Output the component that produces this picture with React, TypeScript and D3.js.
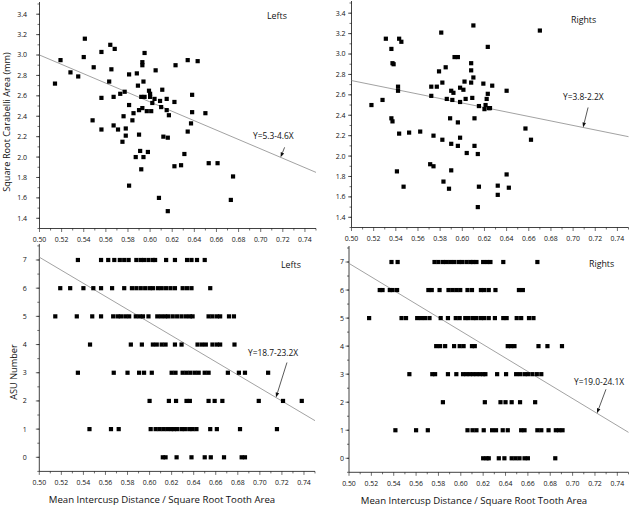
import * as d3 from "d3";
import React from "react";

// Carabelli area vs intercusp ratio
const leftCarabelli: [number, number][] = [
  [0.514, 2.72], [0.519, 2.95], [0.528, 2.83], [0.535, 2.79], [0.541, 3.16], [0.540, 2.98],
  [0.548, 2.36], [0.549, 2.88], [0.556, 2.58], [0.556, 2.27], [0.556, 3.03], [0.564, 3.10],
  [0.565, 2.86], [0.568, 3.06], [0.563, 2.74], [0.567, 2.59], [0.567, 2.31], [0.571, 2.27],
  [0.573, 2.62], [0.577, 2.64], [0.576, 2.40], [0.575, 2.15], [0.578, 2.28], [0.578, 2.21],
  [0.581, 2.81], [0.581, 2.51], [0.581, 1.72], [0.584, 2.36], [0.585, 2.43], [0.587, 2.00],
  [0.588, 2.82], [0.589, 2.70], [0.590, 2.46], [0.590, 2.22], [0.591, 2.06], [0.592, 2.59],
  [0.592, 1.88], [0.593, 2.93], [0.593, 2.90], [0.593, 2.48], [0.594, 2.74], [0.594, 2.00],
  [0.595, 3.02], [0.595, 2.59], [0.597, 2.45], [0.598, 2.05], [0.599, 2.65], [0.600, 2.62],
  [0.600, 2.59], [0.601, 2.45], [0.602, 2.53], [0.604, 2.57], [0.605, 2.85], [0.608, 1.60],
  [0.609, 2.55], [0.610, 2.49], [0.611, 2.66], [0.612, 2.20], [0.615, 2.57], [0.615, 2.46],
  [0.616, 1.47], [0.616, 2.19], [0.617, 2.41], [0.622, 2.54], [0.622, 1.91], [0.623, 2.90],
  [0.628, 1.92], [0.631, 2.03], [0.634, 2.25], [0.634, 2.95], [0.637, 2.33], [0.638, 2.44],
  [0.638, 2.61], [0.643, 2.94], [0.650, 2.43], [0.653, 1.94], [0.661, 1.94], [0.673, 1.58],
  [0.675, 1.81],
];

const rightCarabelli: [number, number][] = [
  [0.518, 2.50], [0.528, 2.55], [0.531, 3.15], [0.536, 3.05], [0.537, 2.91], [0.538, 2.90],
  [0.536, 2.37], [0.537, 2.34], [0.542, 2.68], [0.542, 2.64], [0.543, 3.15], [0.545, 3.12],
  [0.541, 1.85], [0.543, 2.22], [0.547, 1.70], [0.552, 2.23], [0.562, 2.24], [0.572, 2.59],
  [0.572, 2.68], [0.571, 1.92], [0.574, 1.90], [0.574, 2.20], [0.577, 2.68], [0.579, 2.83],
  [0.581, 3.21], [0.582, 2.72], [0.582, 2.16], [0.583, 1.75], [0.585, 2.87], [0.586, 2.56],
  [0.588, 1.68], [0.589, 2.37], [0.590, 1.86], [0.590, 2.64], [0.590, 2.12], [0.591, 2.55],
  [0.592, 2.62], [0.593, 2.97], [0.596, 2.10], [0.596, 2.33], [0.596, 2.97], [0.598, 2.53],
  [0.598, 2.18], [0.598, 2.67], [0.601, 2.65], [0.602, 2.73], [0.603, 2.56], [0.604, 2.03],
  [0.608, 2.91], [0.608, 2.72], [0.609, 2.57], [0.608, 2.84], [0.610, 3.28], [0.610, 2.77],
  [0.611, 2.37], [0.611, 2.10], [0.614, 2.02], [0.614, 1.50], [0.615, 1.70], [0.615, 2.49],
  [0.619, 2.71], [0.620, 2.46], [0.621, 2.50], [0.622, 2.56], [0.623, 2.61], [0.623, 3.07],
  [0.624, 2.47], [0.625, 2.47], [0.627, 2.69], [0.632, 1.71], [0.632, 1.62], [0.640, 2.64],
  [0.640, 1.82], [0.642, 1.69], [0.657, 2.27], [0.662, 2.16], [0.670, 3.23],
];

// ASU grade rows (index = ASU number), x positions only
const leftAsu: number[][] = [
  [0.612, 0.6145, 0.6245, 0.638, 0.650, 0.6555, 0.6675, 0.6835, 0.6865],
  [0.5455, 0.565, 0.572, 0.601, 0.6055, 0.609, 0.6125, 0.616, 0.6195, 0.622, 0.625, 0.629,
    0.632, 0.636, 0.639, 0.6425, 0.655, 0.661, 0.682, 0.7155],
  [0.600, 0.6175, 0.624, 0.6335, 0.6365, 0.6535, 0.659, 0.666, 0.699, 0.721, 0.738],
  [0.535, 0.5675, 0.580, 0.5905, 0.595, 0.602, 0.620, 0.6235, 0.630, 0.6335, 0.637, 0.641,
    0.6445, 0.650, 0.6535, 0.671, 0.681, 0.6865, 0.7075],
  [0.546, 0.583, 0.593, 0.603, 0.6065, 0.611, 0.6145, 0.623, 0.629, 0.6435, 0.6475, 0.651,
    0.657, 0.661, 0.664, 0.677],
  [0.5145, 0.534, 0.548, 0.556, 0.567, 0.571, 0.574, 0.578, 0.5815, 0.5875, 0.591, 0.594,
    0.599, 0.607, 0.6105, 0.614, 0.617, 0.621, 0.625, 0.629, 0.633, 0.6365, 0.639, 0.6535,
    0.657, 0.661, 0.664, 0.672, 0.6765],
  [0.519, 0.528, 0.540, 0.549, 0.556, 0.566, 0.577, 0.584, 0.588, 0.592, 0.596, 0.600,
    0.603, 0.6075, 0.611, 0.615, 0.619, 0.623, 0.630, 0.634, 0.638, 0.655],
  [0.535, 0.556, 0.5625, 0.568, 0.573, 0.577, 0.581, 0.588, 0.592, 0.595, 0.599, 0.603,
    0.605, 0.615, 0.623, 0.634, 0.638, 0.643, 0.650],
];

const rightAsu: number[][] = [
  [0.620, 0.623, 0.625, 0.634, 0.639, 0.6455, 0.649, 0.6525, 0.657, 0.660, 0.6845],
  [0.5415, 0.560, 0.5705, 0.606, 0.6105, 0.614, 0.6205, 0.628, 0.6315, 0.6375, 0.642, 0.654,
    0.657, 0.6685, 0.672, 0.6785, 0.685, 0.688, 0.691],
  [0.584, 0.6215, 0.6355, 0.640, 0.6455, 0.653, 0.6665],
  [0.554, 0.5745, 0.577, 0.5885, 0.596, 0.602, 0.605, 0.608, 0.611, 0.614, 0.617, 0.620,
    0.622, 0.6325, 0.6405, 0.6495, 0.653, 0.657, 0.660, 0.664, 0.668, 0.672],
  [0.578, 0.5815, 0.586, 0.594, 0.599, 0.6025, 0.610, 0.6125, 0.642, 0.645, 0.648, 0.6695,
    0.6775, 0.6905],
  [0.518, 0.547, 0.551, 0.561, 0.5645, 0.568, 0.572, 0.582, 0.5885, 0.5955, 0.599, 0.604,
    0.607, 0.611, 0.614, 0.618, 0.621, 0.625, 0.6305, 0.638, 0.641, 0.650, 0.654, 0.661, 0.665],
  [0.5275, 0.530, 0.5365, 0.539, 0.543, 0.571, 0.574, 0.581, 0.589, 0.5925, 0.596, 0.5995,
    0.606, 0.610, 0.618, 0.621, 0.625, 0.631, 0.652, 0.6555],
  [0.538, 0.5435, 0.5765, 0.580, 0.584, 0.587, 0.5905, 0.594, 0.598, 0.601, 0.605, 0.6085,
    0.611, 0.614, 0.620, 0.6235, 0.6265, 0.638, 0.6685],
];

const xTicks = [0.5, 0.52, 0.54, 0.56, 0.58, 0.6, 0.62, 0.64, 0.66, 0.68, 0.7, 0.72, 0.74];
const carabelliTicks = [1.4, 1.6, 1.8, 2.0, 2.2, 2.4, 2.6, 2.8, 3.0, 3.2, 3.4];
const asuTicks = [0, 1, 2, 3, 4, 5, 6, 7];

const FONT = "'Open Sans', 'DejaVu Sans', sans-serif";
const INK = "#111";

interface PanelProps {
  left: number;
  right: number;
  top: number;
  bottom: number;
  yDomain: [number, number];
  yTicks: number[];
  yMinorStep: number;
  yFormat: (v: number) => string;
  yLabelGap: number;
  points: [number, number][];
  intercept: number;
  slope: number;
  fitText: string;
  fitTextPos: [number, number];
  arrowAt: number;
  arrowTail: [number, number];
  side: string;
  sidePos: [number, number];
  yTitle?: string;
  yTitlePos?: [number, number];
  xTitleX?: number;
}

const Panel: React.FC<PanelProps> = (p) => {
  const x = d3.scaleLinear().domain([0.5, 0.75]).range([p.left, p.right]);
  const y = d3.scaleLinear().domain(p.yDomain).range([p.bottom, p.top]);
  const minorX = d3.range(0.5, 0.7501, 0.01);
  const minorY = d3.range(p.yDomain[0], p.yDomain[1] + 1e-6, p.yMinorStep);
  const fit = (v: number) => p.intercept + p.slope * v;
  const tipX = x(p.arrowAt);
  const tipY = y(fit(p.arrowAt));
  const tailX = tipX + p.arrowTail[0];
  const tailY = tipY + p.arrowTail[1];
  const ang = Math.atan2(tipY - tailY, tipX - tailX);
  const hl = 5, hw = 1.8;
  const bx = tipX - hl * Math.cos(ang), by = tipY - hl * Math.sin(ang);
  const head = `M${tipX},${tipY}L${bx - hw * Math.sin(ang)},${by + hw * Math.cos(ang)}L${bx + hw * Math.sin(ang)},${by - hw * Math.cos(ang)}Z`;
  const s = 4.2;

  return (
    <g fontFamily={FONT}>
      {/* axes */}
      <line x1={p.left} x2={p.left} y1={p.top - 2} y2={p.bottom} stroke={INK} strokeWidth={0.8} />
      <line x1={p.left} x2={p.right} y1={p.bottom} y2={p.bottom} stroke={INK} strokeWidth={0.8} />
      {minorX.map((v, i) => (
        <line key={"mx" + i} x1={x(v)} x2={x(v)} y1={p.bottom} y2={p.bottom + (i % 2 === 0 ? 3.5 : 2)}
          stroke={INK} strokeWidth={0.6} />
      ))}
      {minorY.map((v, i) => (
        <line key={"my" + i} x1={p.left} x2={p.left - 2} y1={y(v)} y2={y(v)} stroke={INK} strokeWidth={0.6} />
      ))}
      {p.yTicks.map((v) => (
        <g key={"yt" + v}>
          <line x1={p.left} x2={p.left - 3.5} y1={y(v)} y2={y(v)} stroke={INK} strokeWidth={0.6} />
          <text x={p.left - p.yLabelGap} y={y(v)} dy="0.35em" textAnchor="end" fontSize={7} fill={INK}>
            {p.yFormat(v)}
          </text>
        </g>
      ))}
      {xTicks.map((v) => (
        <text key={"xt" + v} x={x(v)} y={p.bottom + 11} dy="0.35em" textAnchor="middle" fontSize={6.9} fill={INK}>
          {v.toFixed(2)}
        </text>
      ))}
      {/* regression */}
      <line x1={x(0.5)} y1={y(fit(0.5))} x2={x(0.75)} y2={y(fit(0.75))} stroke="#8a8a8a" strokeWidth={0.8} />
      <line x1={tailX} y1={tailY} x2={bx} y2={by} stroke={INK} strokeWidth={0.7} />
      <path d={head} fill={INK} />
      <text x={p.fitTextPos[0]} y={p.fitTextPos[1]} fontSize={8.4} fill={INK}>{p.fitText}</text>
      <text x={p.sidePos[0]} y={p.sidePos[1]} fontSize={8.8} fill={INK}>{p.side}</text>
      {/* points */}
      {p.points.map(([a, b], i) => (
        <rect key={"pt" + i} x={x(a) - s / 2} y={y(b) - s / 2} width={s} height={s} fill="#000" />
      ))}
      {p.yTitle && p.yTitlePos && (
        <text transform={`translate(${p.yTitlePos[0]},${p.yTitlePos[1]}) rotate(-90)`} textAnchor="middle"
          dy="0.35em" fontSize={9.2} fill={INK}>{p.yTitle}</text>
      )}
      {p.xTitleX !== undefined && (
        <text x={p.xTitleX} y={p.bottom + 28} dy="0.35em" textAnchor="middle" fontSize={9.6}
          fill={INK}>Mean Intercusp Distance / Square Root Tooth Area</text>
      )}
    </g>
  );
};

const toPairs = (rows: number[][]): [number, number][] =>
  rows.flatMap((row, grade) => row.map((v) => [v, grade] as [number, number]));

const App: React.FC = () => {
  return (
    <svg width={633} height={509} style={{ position: "absolute", left: 0, top: 0, background: "#fff" }}>
      <Panel left={39.5} right={316} top={4} bottom={228.5} yDomain={[1.3, 3.5]} yTicks={carabelliTicks}
        yMinorStep={0.1} yFormat={(v) => v.toFixed(1)} yLabelGap={12.5} points={leftCarabelli}
        intercept={5.3} slope={-4.6} fitText="Y=5.3-4.6X" fitTextPos={[253, 139]} arrowAt={0.718}
        arrowTail={[4, -10]} side="Lefts" sidePos={[267, 19]}
        yTitle="Square Root Carabelli Area (mm)" yTitlePos={[7, 122]} />
      <Panel left={351.5} right={628.5} top={3} bottom={227.5} yDomain={[1.3, 3.5]} yTicks={carabelliTicks}
        yMinorStep={0.1} yFormat={(v) => v.toFixed(1)} yLabelGap={6} points={rightCarabelli}
        intercept={3.84} slope={-2.2} fitText="Y=3.8-2.2X" fitTextPos={[563, 100]} arrowAt={0.709}
        arrowTail={[5, -20]} side="Rights" sidePos={[571, 23]} />
      <Panel left={39.3} right={315} top={245.9} bottom={471.4} yDomain={[-0.5, 7.5]} yTicks={asuTicks}
        yMinorStep={0.5} yFormat={(v) => String(v)} yLabelGap={12.5} points={toPairs(leftAsu)}
        intercept={18.7} slope={-23.2} fitText="Y=18.7-23.2X" fitTextPos={[248, 356]} arrowAt={0.7146}
        arrowTail={[11, -35]} side="Lefts" sidePos={[281, 268]}
        yTitle="ASU Number" yTitlePos={[14, 372]} xTitleX={162} />
      <Panel left={349} right={628.5} top={248} bottom={472.3} yDomain={[-0.5, 7.5]} yTicks={asuTicks}
        yMinorStep={0.5} yFormat={(v) => String(v)} yLabelGap={5} points={toPairs(rightAsu)}
        intercept={19.0} slope={-24.1} fitText="Y=19.0-24.1X" fitTextPos={[574, 385]} arrowAt={0.7218}
        arrowTail={[9, -24]} side="Rights" sidePos={[589, 267]} xTitleX={474} />
    </svg>
  );
};

export default App;
